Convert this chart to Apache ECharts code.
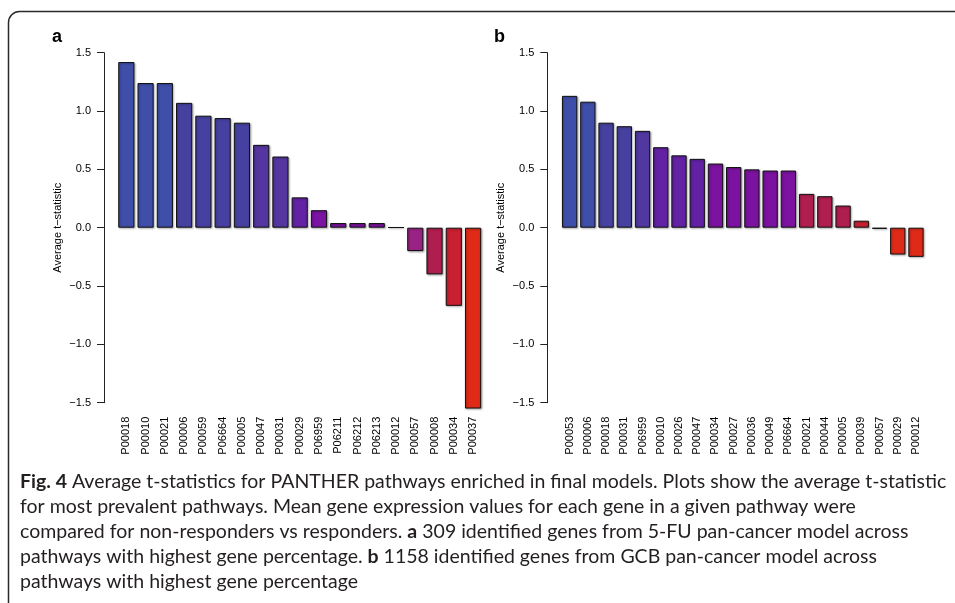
<!DOCTYPE html>
<html>
<head>
<meta charset="utf-8">
<script src="https://cdn.jsdelivr.net/npm/echarts@6/dist/echarts.min.js"></script>
<style>
  html, body { margin: 0; padding: 0; background: #fff; }
  #main { width: 955px; height: 603px; }
</style>
</head>
<body>
<div id="main"></div>
<script>
// panel a: 5-FU pan-cancer model
var pathwaysA = ['P00018','P00010','P00021','P00006','P00059','P06664','P00005','P00047','P00031','P00029',
                 'P06959','P06211','P06212','P06213','P00012','P00057','P00008','P00034','P00037'];
var tstatA = [1.42, 1.24, 1.24, 1.07, 0.96, 0.94, 0.90, 0.71, 0.61, 0.26,
              0.15, 0.04, 0.04, 0.04, 0.003, -0.20, -0.40, -0.67, -1.55];

// panel b: GCB pan-cancer model
var pathwaysB = ['P00053','P00006','P00018','P00031','P06959','P00010','P00026','P00047','P00034','P00027',
                 'P00036','P00049','P06664','P00021','P00044','P00005','P00039','P00057','P00029','P00012'];
var tstatB = [1.13, 1.08, 0.90, 0.87, 0.83, 0.69, 0.62, 0.59, 0.55, 0.52,
              0.50, 0.49, 0.49, 0.29, 0.27, 0.19, 0.06, -0.01, -0.23, -0.25];

// fill colours, one per bar
var colorsA = ['#3f4ea8','#3f4ea8','#3f4ea8','#4641a0','#4641a0','#4641a0','#4641a0','#5535a0','#5535a0','#6222a3',
               '#7a12a2','#7b12a0','#7b12a0','#7b12a0','#7b12a0','#9a2285','#b01e50','#c82030','#df2a18'];
var colorsB = ['#3f4ea8','#3f4ea8','#4641a0','#4641a0','#5038a0','#6222a3','#6222a3','#6222a3','#7b12a0','#7b12a0',
               '#7b12a0','#7b12a0','#7b12a0','#b01e50','#b01e50','#b01e50','#c82030','#c82030','#df2a18','#df2a18'];

var captionLines = [
  '{b|Fig. 4} Average t-statistics for PANTHER pathways enriched in final models. Plots show the average t-statistic',
  'for most prevalent pathways. Mean gene expression values for each gene in a given pathway were',
  'compared for non-responders vs responders. {b|a} 309 identified genes from 5-FU pan-cancer model across',
  'pathways with highest gene percentage. {b|b} 1158 identified genes from GCB pan-cancer model across',
  'pathways with highest gene percentage'
];

var myChart = echarts.init(document.getElementById('main'));

function barData(vals, cols) {
  return vals.map(function (v, i) {
    return { value: v, itemStyle: { color: cols[i] } };
  });
}

function yAxisCfg(idx, offset) {
  return {
    gridIndex: idx,
    type: 'value',
    min: -1.5,
    max: 1.5,
    interval: 0.5,
    offset: offset,
    name: 'Average t\u2212statistic',
    nameLocation: 'middle',
    nameGap: 41,
    nameTextStyle: { fontFamily: 'Liberation Sans', fontSize: 11, color: '#000' },
    axisLine: { show: true, lineStyle: { color: '#222', width: 1 } },
    axisTick: { show: true, length: 7, lineStyle: { color: '#222' } },
    axisLabel: {
      fontFamily: 'Liberation Sans', fontSize: 11, color: '#000', margin: 13,
      formatter: function (v) { return v.toFixed(1).replace('-', '\u2212'); }
    },
    splitLine: { show: false }
  };
}

function xAxisCfg(idx, names) {
  return {
    gridIndex: idx,
    type: 'category',
    data: names,
    axisLine: { show: false },
    axisTick: { show: false },
    axisLabel: { rotate: 90, interval: 0, margin: 14, fontFamily: 'Liberation Sans', fontSize: 11, color: '#000' }
  };
}

var barStyle = {
  borderColor: '#111',
  borderWidth: 1,
  shadowColor: 'rgba(0,0,0,0.3)',
  shadowBlur: 2,
  shadowOffsetX: 1,
  shadowOffsetY: 1
};

var graphics = [
  { type: 'rect', shape: { x: 8.5, y: 11.5, width: 1000, height: 800, r: 11 },
    style: { fill: 'none', stroke: '#2a2a2a', lineWidth: 1.5 }, silent: true },
  { type: 'text', x: 52, y: 37, style: { text: 'a', font: 'bold 18px "Liberation Sans"', fill: '#000', verticalAlign: 'middle' } },
  { type: 'text', x: 494, y: 37, style: { text: 'b', font: 'bold 18px "Liberation Sans"', fill: '#000', verticalAlign: 'middle' } }
];
captionLines.forEach(function (line, i) {
  graphics.push({
    type: 'text', x: 20, y: 482 + i * 25,
    style: {
      text: line, fontFamily: 'Lato', fontSize: 19.5, fill: '#231f20', verticalAlign: 'middle',
      rich: { b: { fontFamily: 'Lato', fontSize: 19.5, fontWeight: 'bold', fill: '#231f20' } }
    }
  });
});

var option = {
  animation: false,
  backgroundColor: '#fff',
  grid: [
    { left: 116.7, top: 52.7, width: 366, height: 350 },
    { left: 560.5, top: 52.7, width: 364.6, height: 350 }
  ],
  xAxis: [xAxisCfg(0, pathwaysA), xAxisCfg(1, pathwaysB)],
  yAxis: [yAxisCfg(0, 12.7), yAxisCfg(1, 13.2)],
  series: [
    { type: 'bar', xAxisIndex: 0, yAxisIndex: 0, barWidth: '84%', clip: false, data: barData(tstatA, colorsA), itemStyle: barStyle },
    { type: 'bar', xAxisIndex: 1, yAxisIndex: 1, barWidth: '84%', clip: false, data: barData(tstatB, colorsB), itemStyle: barStyle }
  ],
  graphic: graphics
};
myChart.setOption(option);
</script>
</body>
</html>
